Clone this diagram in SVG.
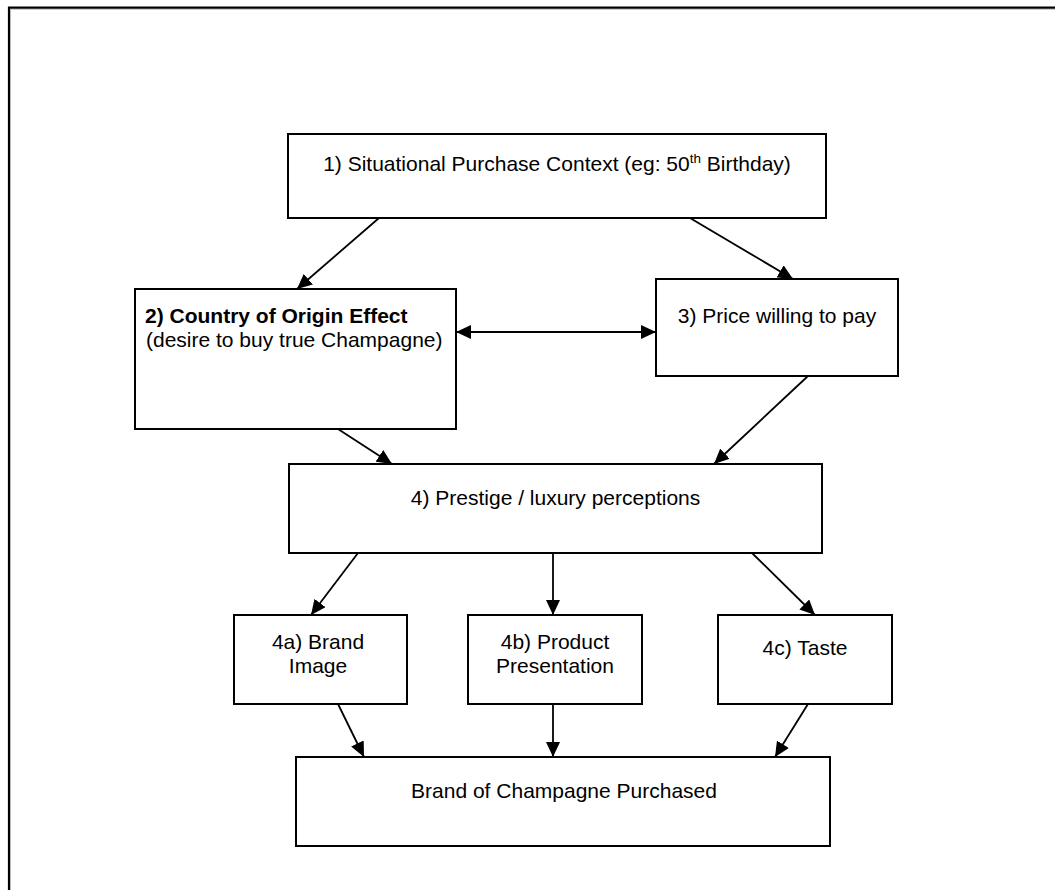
<svg xmlns="http://www.w3.org/2000/svg" width="1055" height="890" viewBox="0 0 1055 890">
<style>
.box{fill:#fff;stroke:#000;stroke-width:2}
.t{font-family:"Liberation Sans",Arial,sans-serif;font-size:21px;fill:#000}
.c{text-anchor:middle}
.b{font-weight:bold}
.con{stroke:#000;stroke-width:1.8;fill:none}
</style>
<defs>
<marker id="ah" viewBox="0 0 15 14" refX="15" refY="7" markerWidth="15" markerHeight="14" markerUnits="userSpaceOnUse" orient="auto-start-reverse">
<path d="M0,0 L15,7 L0,14 Z" fill="#000"/>
</marker>
</defs>
<rect width="1055" height="890" fill="#fff"/>
<path d="M10.5,890 V9.5 H1055" fill="none" stroke="#cfcfcf" stroke-width="1"/>
<path d="M9,890 V7.7 H1055" fill="none" stroke="#000" stroke-width="2.2"/>
<g id="connectors">
<line class="con" x1="379" y1="218" x2="297" y2="289" marker-end="url(#ah)"/>
<line class="con" x1="690" y1="218" x2="793" y2="279" marker-end="url(#ah)"/>
<line class="con" x1="456" y1="332" x2="656" y2="332" marker-start="url(#ah)" marker-end="url(#ah)"/>
<line class="con" x1="338" y1="429" x2="392" y2="464" marker-end="url(#ah)"/>
<line class="con" x1="808" y1="376" x2="714" y2="464" marker-end="url(#ah)"/>
<line class="con" x1="358" y1="553" x2="311" y2="615" marker-end="url(#ah)"/>
<line class="con" x1="553" y1="553" x2="553" y2="615" marker-end="url(#ah)"/>
<line class="con" x1="752" y1="553" x2="815" y2="615" marker-end="url(#ah)"/>
<line class="con" x1="338" y1="704" x2="364" y2="757" marker-end="url(#ah)"/>
<line class="con" x1="553" y1="704" x2="553" y2="757" marker-end="url(#ah)"/>
<line class="con" x1="808" y1="704" x2="775" y2="757" marker-end="url(#ah)"/>
</g>
<g id="n1"><rect class="box" x="288" y="134" width="538" height="84"/>
<text class="t c" x="557" y="171">1) Situational Purchase Context (eg: 50<tspan font-size="13.5" dy="-8">th</tspan><tspan dy="8"> Birthday)</tspan></text></g>
<g id="n2"><rect class="box" x="135" y="289" width="321" height="140"/>
<text class="t b" x="145" y="323">2) Country of Origin Effect</text>
<text class="t" x="146" y="347">(desire to buy true Champagne)</text></g>
<g id="n3"><rect class="box" x="656" y="279" width="242" height="97"/>
<text class="t c" x="777" y="323">3) Price willing to pay</text></g>
<g id="n4"><rect class="box" x="289" y="464" width="533" height="89"/>
<text class="t c" x="555.5" y="505">4) Prestige / luxury perceptions</text></g>
<g id="n4a"><rect class="box" x="234" y="615" width="173" height="89"/>
<text class="t c" x="318" y="649">4a) Brand</text><text class="t c" x="318" y="673">Image</text></g>
<g id="n4b"><rect class="box" x="468" y="615" width="174" height="89"/>
<text class="t c" x="555" y="649">4b) Product</text><text class="t c" x="555" y="673">Presentation</text></g>
<g id="n4c"><rect class="box" x="718" y="615" width="174" height="89"/>
<text class="t c" x="805" y="655">4c) Taste</text></g>
<g id="n5"><rect class="box" x="296" y="757" width="534" height="89"/>
<text class="t c" x="564" y="798">Brand of Champagne Purchased</text></g>
</svg>
